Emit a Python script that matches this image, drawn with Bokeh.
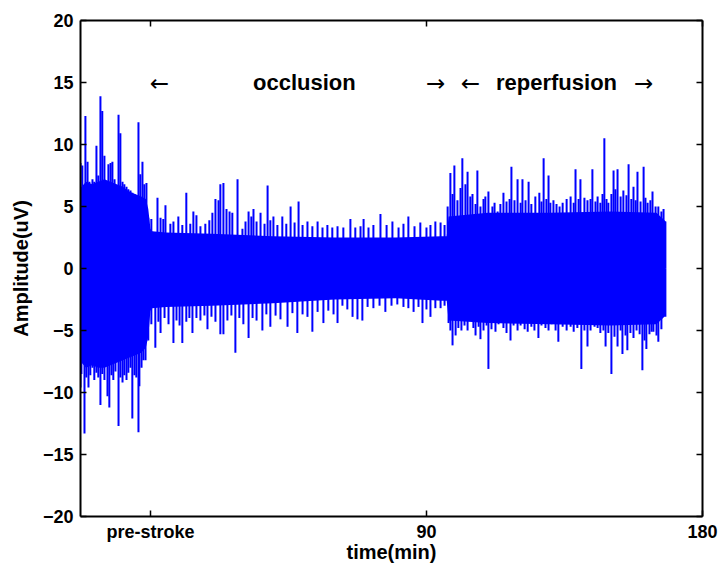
from bokeh.plotting import figure
from bokeh.models import LinearAxis, FixedTicker, Range1d
from bokeh.embed import file_html
from bokeh.resources import INLINE
from bokeh.core.properties import value

# ---------------- data ----------------
# dense body of the EEG trace: upper / lower envelope (uV) versus time (min)
body_t = [-22.8, -21, -19, -17, -15, -13, -11, -9, -7, -5, -3, -1.5, -0.7, 0.0, 0.6, 5, 20, 40, 60, 80,
          95, 96.6, 97.2, 110, 130, 150, 165, 168]
body_hi = [6.5, 7.0, 6.8, 7.0, 7.2, 7.0, 6.8, 6.6, 6.2, 6.0, 5.8, 5.6, 4.8, 3.2, 3.0, 2.9, 2.8, 2.6, 2.5,
           2.5, 2.6, 2.6, 4.2, 4.5, 4.5, 4.6, 4.5, 3.8]
body_lo = [-7.5, -8.0, -7.8, -8.0, -8.0, -7.8, -7.6, -7.4, -7.2, -7.0, -6.8, -6.4, -5.5, -3.4, -3.2, -3.1,
           -3.0, -2.8, -2.5, -2.4, -2.6, -2.6, -4.2, -4.4, -4.5, -4.6, -4.5, -3.8]

# positive excursions (time in min, peak in uV)
up_t = [-22.8, -22.2, -21.2, -20.5, -19.9, -18.9, -18.3, -17.6, -17.0, -16.3, -15.7, -15.0, -14.3, -13.7,
        -13.0, -12.4, -11.7, -11.1, -10.4, -9.8, -9.1, -8.5, -7.8, -7.2, -6.5, -5.9, -5.2, -4.6, -3.9,
        -3.3, -2.6, -2.0, -1.3, -0.7,
        0.3, 2.3, 3.3, 4.2, 4.9, 6.5, 7.5, 9.1, 10.4, 11.7, 13.0, 14.0, 15.0, 16.3, 17.9, 19.2, 20.2,
        21.2, 22.2, 22.8, 23.8, 24.8, 25.8, 26.7, 28.4, 30.0, 31.0, 32.0, 32.9, 33.6, 34.6, 35.9, 37.2,
        38.2, 39.1, 40.1, 41.4, 43.0, 44.3, 45.7, 47.0, 48.3, 49.6, 51.2, 52.8, 54.5, 56.1, 57.7, 59.3,
        61.0, 62.9, 65.2, 66.8, 68.5, 69.5, 71.1, 72.7, 75.0, 77.0, 78.9, 80.9, 82.5, 84.1, 86.1, 88.0,
        90.0, 91.3, 92.9, 94.6, 95.9,
        96.9, 97.8, 98.5, 99.1, 100.1, 101.1, 101.7, 102.7, 103.4, 104.3, 105.0, 106.0, 106.6, 107.6,
        108.6, 109.2, 110.2, 111.5, 112.2, 113.2, 114.1, 115.1, 116.1, 117.1, 117.7, 118.7, 119.7, 120.7,
        121.3, 122.3, 123.3, 124.2, 125.5, 126.8, 127.5, 128.2, 129.1, 129.8, 130.4, 131.4, 132.4, 133.4,
        134.4, 135.7, 137.0, 138.0, 138.6, 139.6, 140.2, 141.5, 142.5, 143.5, 144.1, 145.1, 145.8, 146.7,
        147.4, 148.0, 148.7, 149.3, 150.3, 151.0, 151.6, 152.3, 153.3, 154.2, 155.2, 155.9, 156.8, 157.5,
        158.2, 158.8, 159.8, 160.8, 161.4, 162.1, 163.0, 163.7, 164.7, 165.6, 166.6, 167.3, 167.9]
up_v = [8.5, 8.3, 12.3, 8.6, 7.0, 7.2, 7.0, 9.9, 7.5, 13.9, 12.7, 9.1, 6.8, 8.4,
        8.5, 8.6, 7.2, 6.5, 12.4, 10.9, 7.0, 6.8, 6.6, 6.4, 6.3, 6.1, 6.0, 5.8, 11.8,
        7.6, 8.6, 6.8, 6.9, 4.1,
        4.0, 5.7, 4.1, 4.0, 5.1, 3.6, 3.8, 4.2, 3.5, 6.1, 3.6, 4.6, 4.3, 3.4, 3.6, 3.9, 4.5,
        5.6, 5.5, 6.8, 6.9, 4.8, 4.6, 4.5, 7.2, 3.2, 3.8, 4.6, 4.2, 4.8, 3.8, 4.5, 3.6,
        6.7, 3.9, 4.2, 3.5, 4.2, 3.6, 5.0, 3.7, 5.4, 3.5, 3.8, 3.4, 3.8, 3.3, 3.5, 3.3,
        3.4, 3.3, 4.0, 3.3, 3.4, 4.0, 3.3, 3.5, 4.4, 3.5, 3.8, 3.3, 3.6, 4.2, 3.4, 3.7,
        3.3, 3.5, 3.8, 3.7, 3.5,
        5.0, 7.7, 6.0, 8.3, 5.5, 6.5, 8.9, 6.8, 7.8, 5.8, 6.0, 5.2, 7.9, 5.0,
        5.6, 5.8, 6.2, 5.0, 5.3, 4.6, 5.2, 6.1, 5.4, 5.6, 8.2, 5.5, 7.2, 5.3,
        7.2, 5.5, 7.0, 5.2, 5.8, 6.1, 5.4, 8.9, 5.6, 7.5, 5.3, 5.5, 5.2, 5.0,
        5.3, 5.6, 5.8, 5.3, 8.0, 5.6, 7.2, 5.7, 5.5, 5.6, 8.0, 5.4, 5.8, 5.3,
        6.0, 10.5, 5.6, 5.3, 6.0, 7.9, 6.4, 8.0, 5.8, 6.3, 5.9, 8.4, 5.6, 6.6,
        5.5, 7.8, 5.4, 8.2, 5.7, 5.3, 5.5, 6.2, 5.0, 5.0, 4.6, 4.8, 3.8]

# negative excursions (time in min, trough in uV)
dn_t = [-22.8, -22.5, -21.5, -20.9, -20.2, -19.6, -18.9, -18.3, -17.6, -17.0, -16.3, -15.7, -15.0, -14.0,
        -13.4, -12.7, -12.1, -11.4, -10.4, -9.8, -9.1, -8.5, -7.8, -7.2, -6.5, -5.9, -5.2, -4.6, -3.9,
        -3.6, -2.9, -2.3, -1.6, -0.7,
        0.3, 1.6, 2.6, 3.3, 4.6, 5.9, 7.5, 8.5, 9.5, 10.4, 11.7, 12.7, 13.7, 15.0, 16.3, 17.6, 18.6,
        19.9, 21.2, 22.8, 23.8, 25.1, 26.4, 27.7, 29.0, 30.3, 32.0, 33.3, 34.6, 36.5, 37.8, 39.1, 40.8,
        42.4, 44.7, 46.3, 47.9, 49.6, 51.2, 52.8, 54.5, 56.4, 58.0, 59.7, 61.0, 62.6, 64.2, 65.9, 67.5,
        69.1, 70.8, 72.7, 74.7, 76.6, 78.6, 80.5, 82.5, 84.1, 85.8, 87.4, 88.7, 90.0, 91.3, 92.9, 94.6,
        95.9,
        97.2, 97.8, 98.5, 99.5, 100.4, 101.4, 102.4, 103.4, 104.3, 105.3, 106.0, 107.0, 107.6, 108.6,
        109.6, 110.2, 111.2, 112.5, 113.5, 115.1, 116.1, 117.4, 118.4, 119.7, 120.7, 122.0, 123.0, 124.2,
        125.2, 126.5, 127.5, 128.8, 129.8, 130.8, 132.1, 133.0, 134.4, 135.7, 137.0, 138.0, 139.2, 140.5,
        141.5, 142.5, 143.5, 144.8, 145.8, 146.7, 147.7, 148.4, 149.3, 150.3, 151.3, 152.3, 153.3, 153.9,
        154.9, 155.5, 156.5, 157.5, 158.5, 159.5, 160.4, 161.1, 161.7, 162.7, 163.4, 164.0, 165.0, 165.6,
        166.6, 167.3, 167.9]
dn_v = [-9.6, -8.5, -13.3, -8.8, -9.6, -8.6, -8.0, -9.0, -8.4, -8.8, -11.0, -8.5, -9.0, -10.3,
        -11.2, -8.6, -9.0, -8.3, -12.7, -8.8, -9.2, -8.6, -9.0, -8.4, -8.0, -12.1, -8.6, -8.8, -13.2,
        -9.5, -8.0, -7.4, -7.4, -5.8,
        -4.5, -6.4, -4.3, -5.2, -4.0, -4.5, -6.0, -4.2, -4.6, -6.0, -4.3, -4.0, -5.2, -4.0, -4.2, -3.8, -4.9,
        -3.9, -4.3, -5.3, -5.3, -4.2, -3.8, -6.8, -4.0, -4.5, -5.6, -4.0, -4.2, -5.0, -3.7, -4.7, -3.8,
        -4.1, -4.7, -3.6, -5.2, -3.7, -3.9, -5.1, -3.5, -4.4, -3.4, -3.7, -4.4, -3.0, -3.3, -3.9, -4.1,
        -4.2, -3.1, -3.2, -3.0, -3.5, -3.0, -2.9, -3.1, -3.2, -3.5, -3.1, -4.4, -3.3, -3.9, -3.2, -3.2,
        -3.0,
        -4.4, -5.0, -6.2, -5.4, -4.8, -5.0, -4.6, -5.0, -4.2, -4.8, -5.4, -4.7, -5.7, -5.0,
        -4.6, -8.1, -4.9, -5.1, -4.5, -4.8, -5.2, -5.8, -4.6, -5.0, -4.6, -4.9, -5.1, -4.7,
        -5.0, -5.6, -4.6, -4.8, -5.0, -4.5, -5.0, -5.9, -4.7, -5.0, -4.7, -5.1, -4.8, -8.1,
        -5.0, -6.3, -5.0, -4.7, -4.8, -5.2, -5.0, -6.3, -5.2, -8.5, -5.5, -6.3, -5.0, -6.9,
        -5.4, -6.6, -5.2, -5.6, -5.0, -5.3, -8.2, -5.8, -6.5, -5.3, -5.1, -5.1, -5.4, -5.9,
        -4.9, -3.7, -3.9]

y_ticks = [-20, -15, -10, -5, 0, 5, 10, 15, 20]
x_ticks = [0, 90, 180]
x_tick_labels = {0: "pre-stroke", 90: "90", 180: "180"}

arrow_t = [2.9, 93.0, 104.3, 160.8]
arrow_txt = ["\u2190", "\u2192", "\u2190", "\u2192"]
phase_t = [50.2, 132.4]
phase_txt = ["occlusion", "reperfusion"]
label_y = 15.0

# ---------------- figure ----------------
BLUE = "#0000ff"
FONT = "Liberation Sans"

p = figure(width=719, height=567, output_backend="svg", toolbar_location=None,
           x_range=Range1d(-22.8, 180), y_range=Range1d(-20, 20),
           min_border_left=80, min_border_right=17, min_border_top=20, min_border_bottom=51,
           background_fill_color="white", border_fill_color="white")
p.outline_line_color = None
p.xgrid.visible = False
p.ygrid.visible = False

p.varea(x=body_t, y1=body_lo, y2=body_hi, fill_color=BLUE)
p.segment(x0=up_t, y0=[0] * len(up_t), x1=up_t, y1=up_v, line_color=BLUE, line_width=2)
p.segment(x0=dn_t, y0=[0] * len(dn_t), x1=dn_t, y1=dn_v, line_color=BLUE, line_width=2)

p.text(x=arrow_t, y=[label_y] * len(arrow_t), text=arrow_txt, text_font=value("DejaVu Sans"),
       text_font_size="23px", text_align="center", text_baseline="middle", text_color="black")
p.text(x=phase_t, y=[label_y] * len(phase_t), text=phase_txt, text_font=value(FONT),
       text_font_style="bold", text_font_size="22px", text_align="center", text_baseline="middle",
       text_color="black")


def style(ax, labels=True):
    ax.axis_line_color = "black"
    ax.axis_line_width = 2
    ax.major_tick_line_color = "black"
    ax.major_tick_line_width = 1.5
    ax.major_tick_in = 6
    ax.major_tick_out = 0
    ax.minor_tick_line_color = None
    if labels:
        ax.major_label_text_font = FONT
        ax.major_label_text_font_style = "bold"
        ax.major_label_text_font_size = "18px"
        ax.major_label_text_color = "black"
        ax.axis_label_text_font = FONT
        ax.axis_label_text_font_style = "bold"
        ax.axis_label_text_font_size = "20px"
        ax.axis_label_text_color = "black"
    else:
        ax.major_label_text_font_size = "2px"
        ax.major_label_text_color = None
        ax.major_label_standoff = 0


xa = p.xaxis[0]
xa.ticker = FixedTicker(ticks=x_ticks)
xa.major_label_overrides = x_tick_labels
xa.axis_label = "time(min)"
style(xa)
xa.major_label_standoff = 5
xa.axis_label_standoff = -4

ya = p.yaxis[0]
ya.ticker = FixedTicker(ticks=y_ticks)
ya.axis_label = "Amplitude(uV)"
style(ya)
ya.major_label_standoff = 7
ya.axis_label_standoff = 8

ra = LinearAxis(ticker=FixedTicker(ticks=y_ticks))
style(ra, labels=False)
p.add_layout(ra, "right")
ta = LinearAxis(ticker=FixedTicker(ticks=x_ticks))
style(ta, labels=False)
p.add_layout(ta, "above")

open("out.html", "w").write(file_html(p, INLINE))
